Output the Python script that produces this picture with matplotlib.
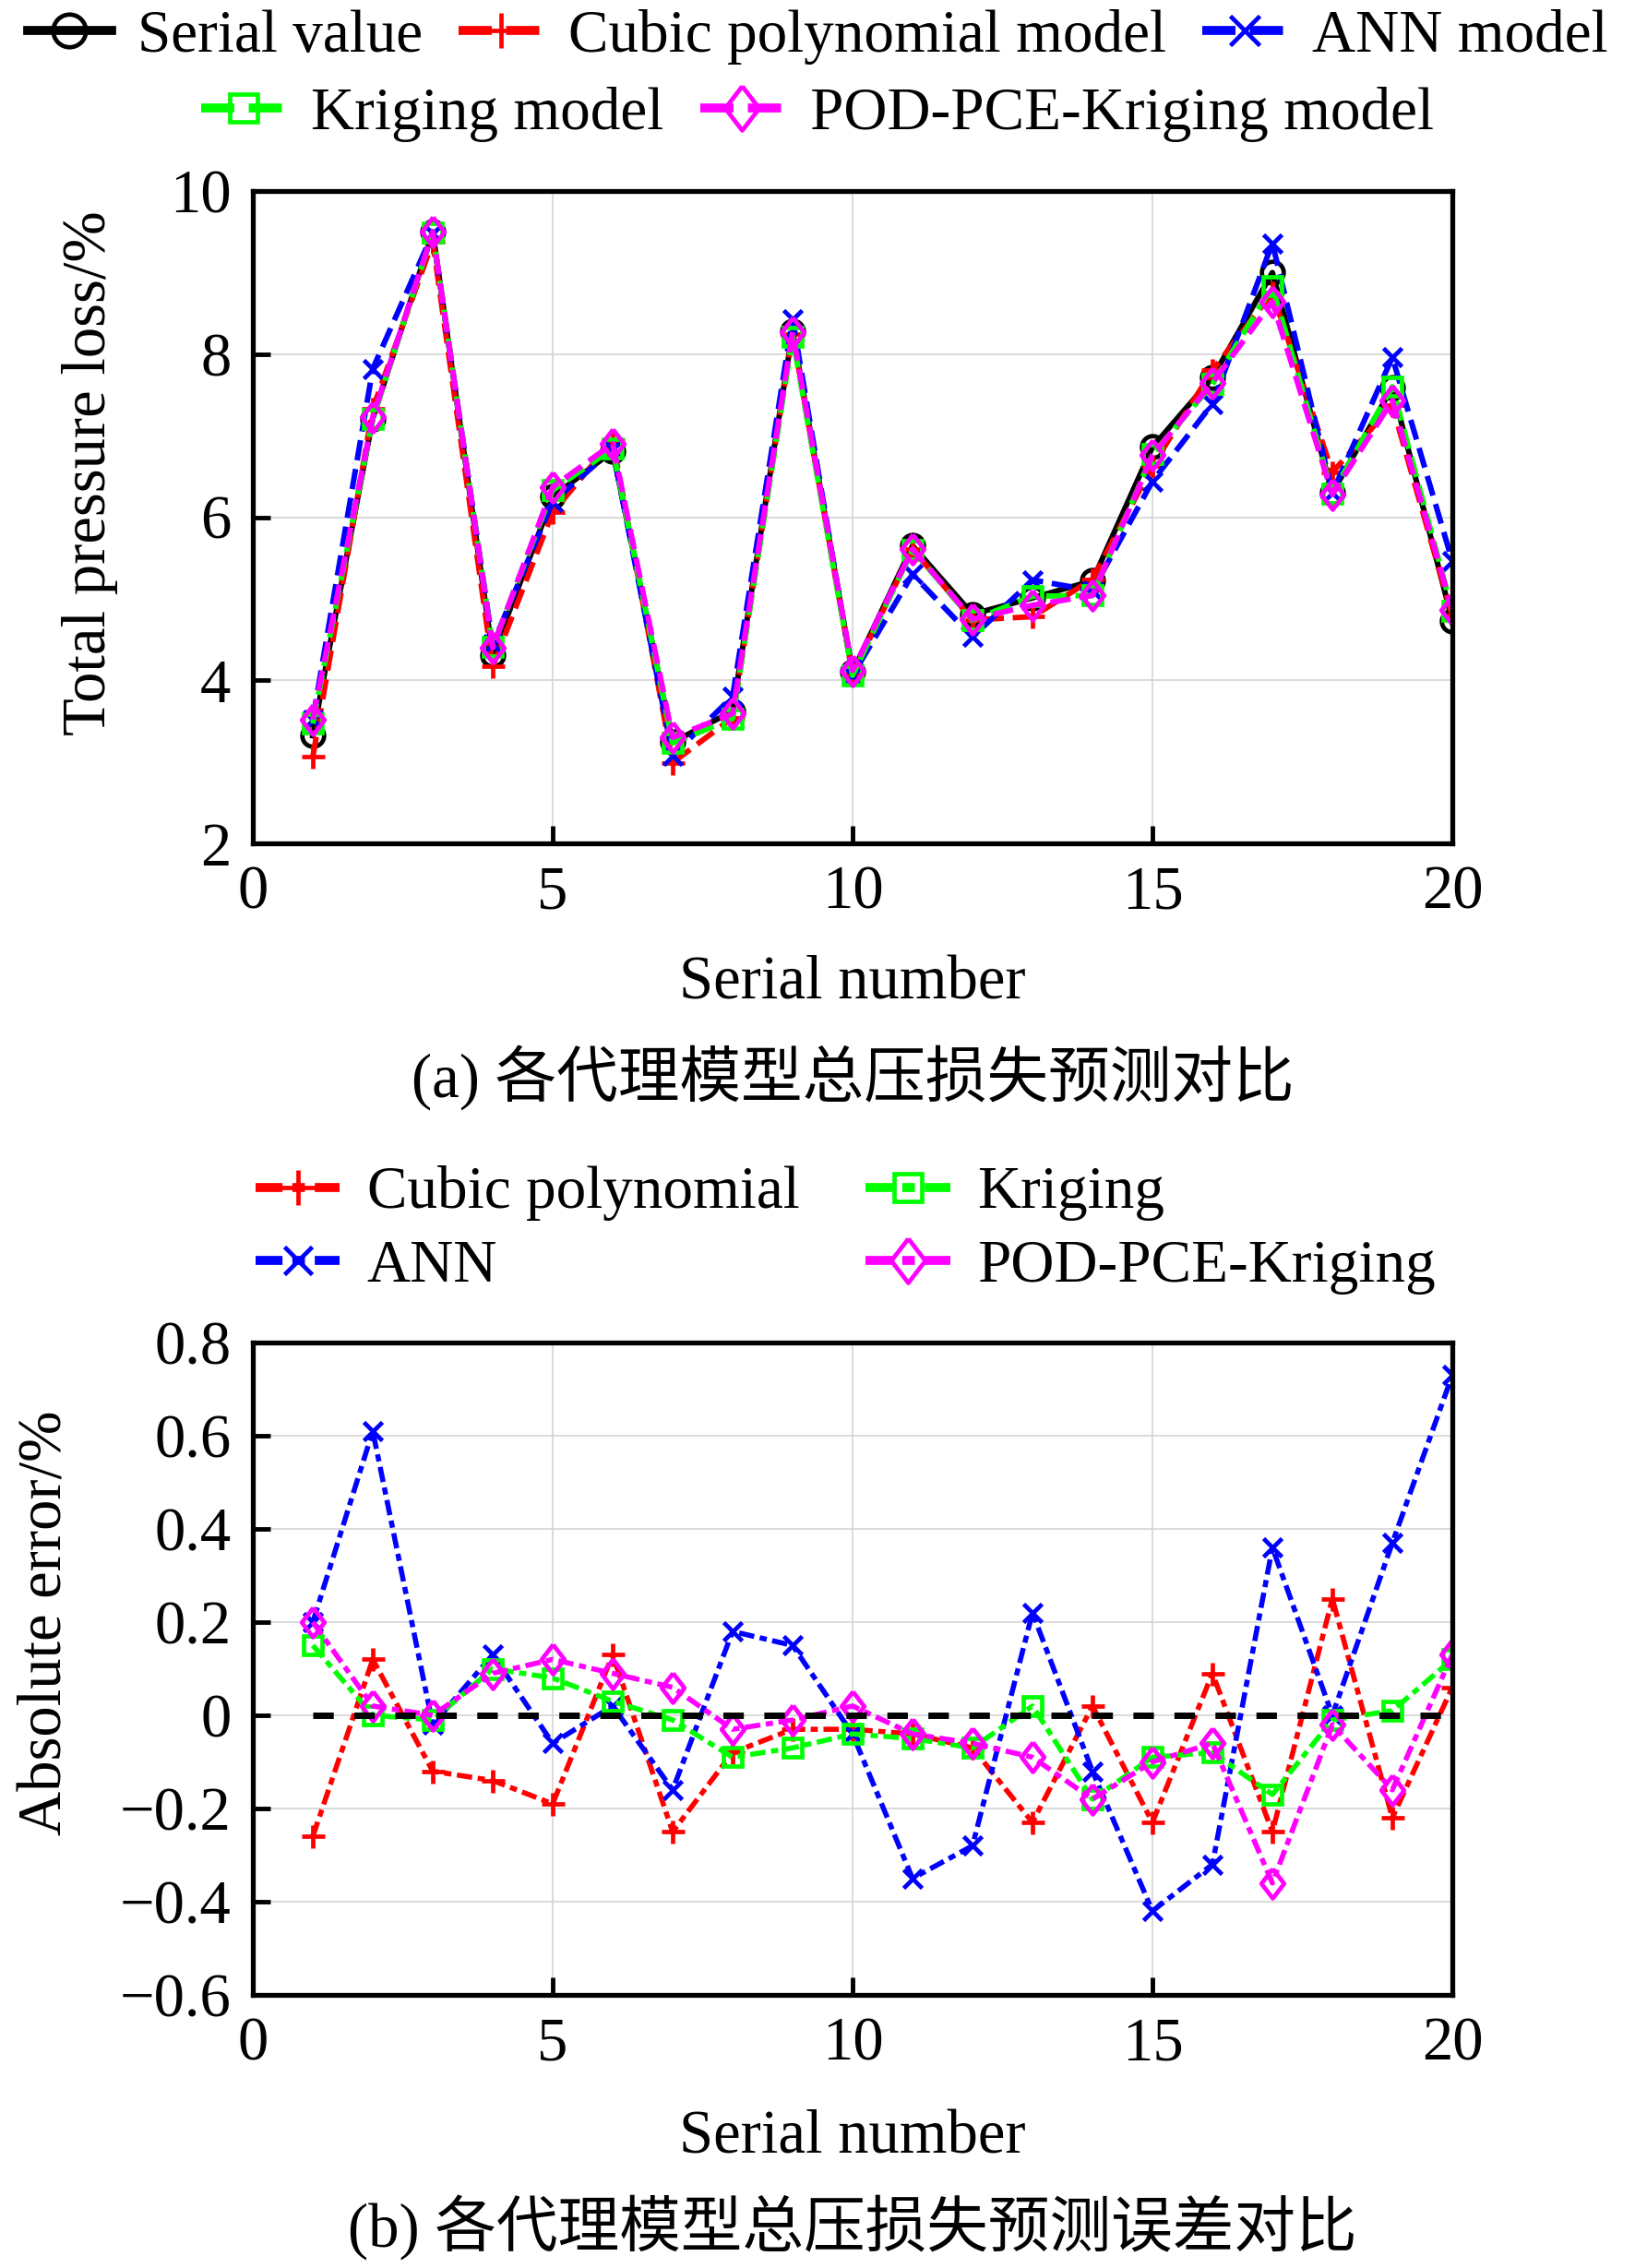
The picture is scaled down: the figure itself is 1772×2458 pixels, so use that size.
import matplotlib
matplotlib.use("Agg")
import matplotlib.pyplot as plt
import numpy as np
from matplotlib.ticker import FuncFormatter

# data
serial_no = list(range(1, 21))
serial_value = [3.32, 7.21, 9.50, 4.31, 6.25, 6.81, 3.24, 3.62, 8.28, 4.10,
                5.65, 4.81, 5.01, 5.22, 6.86, 7.71, 9.00, 6.30, 7.59, 4.73]
cubic_pred = [3.06, 7.33, 9.38, 4.17, 6.06, 6.94, 2.99, 3.54, 8.25, 4.07,
              5.61, 4.74, 4.78, 5.24, 6.63, 7.80, 8.75, 6.55, 7.37, 4.79]
ann_pred = [3.52, 7.82, 9.48, 4.44, 6.19, 6.83, 3.08, 3.80, 8.43, 4.06,
            5.30, 4.53, 5.23, 5.10, 6.44, 7.39, 9.36, 6.30, 7.96, 5.46]
kriging_pred = [3.47, 7.21, 9.49, 4.41, 6.33, 6.84, 3.23, 3.53, 8.21, 4.06,
                5.60, 4.74, 5.03, 5.04, 6.77, 7.63, 8.83, 6.29, 7.60, 4.85]
pod_pred = [3.52, 7.23, 9.50, 4.40, 6.37, 6.90, 3.30, 3.59, 8.27, 4.12,
            5.61, 4.75, 4.92, 5.04, 6.76, 7.65, 8.64, 6.28, 7.43, 4.86]

cubic_err = [-0.26, 0.12, -0.12, -0.14, -0.19, 0.13, -0.25, -0.08, -0.03, -0.03,
             -0.04, -0.07, -0.23, 0.02, -0.23, 0.09, -0.25, 0.25, -0.22, 0.06]
ann_err = [0.20, 0.61, -0.02, 0.13, -0.06, 0.02, -0.16, 0.18, 0.15, -0.04,
           -0.35, -0.28, 0.22, -0.12, -0.42, -0.32, 0.36, 0.00, 0.37, 0.73]
kriging_err = [0.15, 0.00, -0.01, 0.10, 0.08, 0.03, -0.01, -0.09, -0.07, -0.04,
               -0.05, -0.07, 0.02, -0.18, -0.09, -0.08, -0.17, -0.01, 0.01, 0.12]
pod_err = [0.20, 0.02, 0.00, 0.09, 0.12, 0.09, 0.06, -0.03, -0.01, 0.02,
           -0.04, -0.06, -0.09, -0.18, -0.10, -0.06, -0.36, -0.02, -0.16, 0.13]
zero_line = [0.0] * 20

x_ticks = [0, 5, 10, 15, 20]
y1_ticks = [2, 4, 6, 8, 10]
y2_ticks = [-0.6, -0.4, -0.2, 0, 0.2, 0.4, 0.6, 0.8]

FS = 48
LFS = 47
plt.rcParams["font.family"] = ["Liberation Serif", "Noto Sans CJK SC"]
plt.rcParams["font.size"] = FS
plt.rcParams["axes.unicode_minus"] = True

W, H = 1772, 2458
fig = plt.figure(figsize=(W / 100, H / 100), dpi=100)

# thin diamond marker (taller than wide)
diamond = [(0, 1), (0.77, 0), (0, -1), (-0.77, 0), (0, 1)]

def style_axes(ax):
    for s in ax.spines.values():
        s.set_linewidth(3.8)
    ax.tick_params(direction="in", length=14, width=3.5, pad=17, labelsize=FS)
    ax.grid(True, color="#d4d4d4", linewidth=1.2)
    ax.set_axisbelow(True)
    ax.set_xlim(0, 20)
    ax.set_xticks(x_ticks)

# ---------- (a) predictions ----------
ax1 = fig.add_axes([274 / W, 1 - 914 / H, 1300 / W, 707 / H])
style_axes(ax1)
lw = 4.3
mew = 3.4
ax1.plot(serial_no, serial_value, "-", color="black", lw=lw, marker="o", ms=17,
         mfc="none", mew=mew, label="Serial value")
ax1.plot(serial_no, cubic_pred, "--", color="red", lw=lw, marker="+", ms=18,
         mew=mew, label="Cubic polynomial model")
ax1.plot(serial_no, ann_pred, "--", color="blue", lw=lw, marker="x", ms=15,
         mew=mew, label="ANN model")
ax1.plot(serial_no, kriging_pred, "--", color="#00ff00", lw=lw, marker="s", ms=14,
         mfc="none", mew=mew, label="Kriging model")
ax1.plot(serial_no, pod_pred, "--", color="magenta", lw=lw, marker=diamond, ms=23,
         mfc="none", mew=mew, label="POD-PCE-Kriging model")
ax1.set_ylim(2, 10)
ax1.set_yticks(y1_ticks)

h1, l1 = ax1.get_legend_handles_labels()
leg_kw = dict(frameon=False, borderpad=0, borderaxespad=0, handlelength=1.4,
              handletextpad=0.42, columnspacing=0.6, markerscale=1.5,
              numpoints=1, fontsize=LFS)
legA = fig.legend(h1[:3], l1[:3], loc="center", ncol=3,
                  bbox_to_anchor=(0.5, 1 - 40 / H), **leg_kw)
legB = fig.legend(h1[3:], l1[3:], loc="center", ncol=2,
                  bbox_to_anchor=(0.5, 1 - 124 / H), **leg_kw)
for lg in (legA, legB):
    for ln in lg.get_lines():
        ln.set_linewidth(7)

fig.text(924 / W, 1 - 1066 / H, "Serial number", ha="center", va="center")
fig.text(924 / W, 1 - 1168 / H, "(a) 各代理模型总压损失预测对比", ha="center", va="center")
fig.text(98 / W, 1 - 513 / H, "Total pressure loss/%", rotation=90,
         ha="center", va="center")

# ---------- (b) errors ----------
ax2 = fig.add_axes([274 / W, 1 - 2162 / H, 1300 / W, 707 / H])
style_axes(ax2)
dd = (3, 1.1, 1.4, 1.1)
lw2 = 4.0
ax2.plot(serial_no, cubic_err, color="red", lw=lw2, dashes=dd, marker="+", ms=18,
         mew=mew, label="Cubic polynomial")
ax2.plot(serial_no, ann_err, color="blue", lw=lw2, dashes=dd, marker="x", ms=14,
         mew=mew, label="ANN")
ax2.plot(serial_no, kriging_err, color="#00ff00", lw=lw2, dashes=dd, marker="s", ms=14,
         mfc="none", mew=mew, label="Kriging")
ax2.plot(serial_no, pod_err, color="magenta", lw=lw2, dashes=dd, marker=diamond, ms=23,
         mfc="none", mew=mew, label="POD-PCE-Kriging")
ax2.plot(serial_no, zero_line, color="black", lw=5, dashes=(3.2, 3.2), zorder=2.5)
ax2.set_ylim(-0.6, 0.8)
ax2.set_yticks(y2_ticks)
ax2.yaxis.set_major_formatter(FuncFormatter(
    lambda v, p: "0" if abs(v) < 1e-9 else ("%.1f" % v).replace("-", "\u2212")))

h2, l2 = ax2.get_legend_handles_labels()
leg_kw2 = dict(leg_kw)
leg_kw2["columnspacing"] = 1.1
leg_kw2["labelspacing"] = 0.3
leg_kw2["handletextpad"] = 0.45
legC = fig.legend(h2, l2, loc="center left", ncol=2,
                  bbox_to_anchor=(277 / W, 1 - 1333 / H), **leg_kw2)
for ln in legC.get_lines():
    ln.set_linewidth(7)

fig.text(924 / W, 1 - 2317 / H, "Serial number", ha="center", va="center")
fig.text(924 / W, 1 - 2415 / H, "(b) 各代理模型总压损失预测误差对比", ha="center", va="center")
fig.text(50 / W, 1 - 1759 / H, "Absolute error/%", rotation=90,
         ha="center", va="center")

fig.savefig("out.png", dpi=100)
